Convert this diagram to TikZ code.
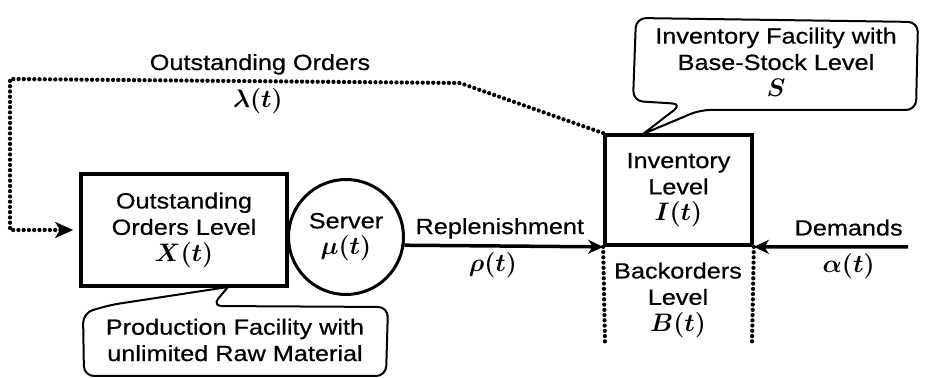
\documentclass[tikz,border=0pt]{standalone}
\usepackage{amsmath}
\usepackage{fontspec}
\setmainfont{Liberation Sans}[FakeStretch=1.15, FakeBold=0.6]
\usepackage{tikz}
\usetikzlibrary{positioning,arrows.meta,shapes}

\newcommand{\symb}[1]{{\fontsize{14}{15}\selectfont$#1$}}

\tikzset{
	every node/.style={font=\fontsize{12.5}{15}\selectfont\boldmath, align=center},
	levelbox/.style={draw, line width=0.75mm, inner sep=0pt},
	mainline/.style={line width=0.7mm},
	dotline/.style={line width=0.85mm, dash pattern=on 0pt off 1.05mm, line cap=round},
	balloon/.style={line width=0.4mm, rounded corners=2mm, line cap=round},
	tip/.style={-{Stealth[length=3mm, width=2.8mm, inset=0.9mm]}},
	bigtip/.style={-{Stealth[length=3.6mm, width=3.2mm, inset=1mm]}}
}

\begin{document}
\begin{tikzpicture}[x=0.02cm, y=-0.02cm]
				\useasboundingbox (0,0) rectangle (931,378);
				% Production side
				\node[levelbox, minimum width=4.12cm, minimum height=2.24cm] (ool) at (184,230) {Outstanding\\Orders Level\\\symb{X(t)}};
				\node[draw, circle, line width=0.6mm, minimum size=2.3cm, inner sep=0pt] (srv) at (346,237) {Server\\\symb{\mu(t)}};
				% Inventory side
				\node[levelbox, minimum width=2.94cm, minimum height=2.2cm] (inv) at (678.5,190) {Inventory\\Level\\\symb{I(t)}};
				\node (bol) at (678,300) {Backorders\\Level\\\symb{B(t)}};
				\coordinate []  (bolL) at (605,343) ;
				\coordinate []  (bolR) at (752,345) ;
				\coordinate []  (dem) at (908,247) ;
				\coordinate []  (fbA) at (460,83) ;
				\coordinate []  (fbB) at (10,79) ;
				\coordinate []  (fbC) at (10,230) ;
				\path[tip] (srv.-8) edge[mainline] node[anchor=base, pos=0.48, yshift=0.24cm] {Replenishment} node[anchor=base, pos=0.445, yshift=-0.52cm] {\symb{\rho(t)}} (inv.south west);
				\path[tip] (dem) edge[mainline] node[anchor=base, pos=0.385, yshift=0.23cm] {Demands} node[anchor=base, pos=0.385, yshift=-0.52cm] {\symb{\alpha(t)}} (inv.south east);
				\draw[dotline] (inv.south west) -- (bolL);
				\draw[dotline] (inv.south east) -- (bolR);
				% Outstanding orders feedback
				\draw[dotline, bigtip, shorten >=1.2mm] (inv.north west) -- (fbA) -- (fbB) -- (fbC) -- (ool.west);
				\node[anchor=base] (outord) at (260,70) {Outstanding Orders};
				\node[anchor=base] (lam) at (258,108) {\symb{\lambda(t)}};
				% Callouts
				\draw[balloon] (643,134) -- (700,110) -- (916,110) -- (918,22) -- (636,18) -- (633,101) -- (682,104) -- (643,134);
				\node (invfac) at (776,62) {Inventory Facility with\\Base-Stock Level\\\symb{S}};
				\draw[balloon] (228,287) -- (212,306) -- (388,307) -- (386,376) -- (84,376) -- (83,313) -- (110,305) -- (228,287);
				\node (prodfac) at (235,340) {Production Facility with\\unlimited Raw Material};
			\end{tikzpicture}
\end{document}
